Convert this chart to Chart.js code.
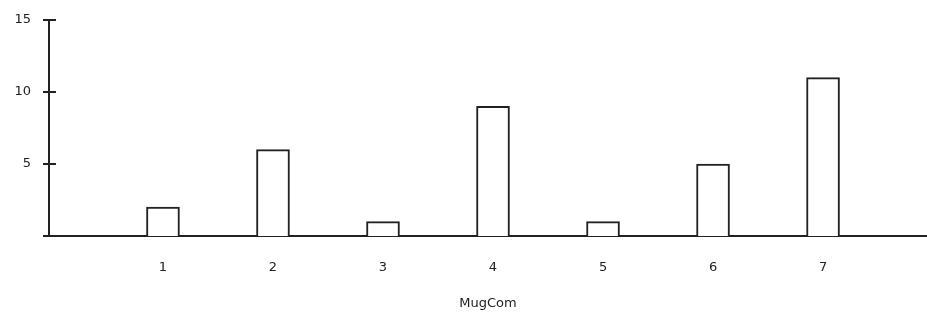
<!DOCTYPE html>
<html>
<head>
<meta charset="utf-8">
<title>MugCom</title>
<script src="https://cdn.jsdelivr.net/npm/chart.js@4/dist/chart.umd.min.js"></script>
<style>
    html, body { margin: 0; padding: 0; background: #fff; }
    #wrap { width: 927px; height: 315px; }
</style>
</head>
<body>
<div id="wrap"><canvas id="mugChart"></canvas></div>
<script>
// ============================================================================
// DATA
// ============================================================================

const categories = [1, 2, 3, 4, 5, 6, 7];
const counts = [2, 6, 1, 9, 1, 5, 11];
const yTicks = [0, 5, 10, 15];
const axisTitle = 'MugCom';

const ink = '#222';

// Small tick marks that cross the y axis on both sides
const crossTicks = {
    id: 'crossTicks',
    afterDraw(chart) {
        const ctx = chart.ctx;
        const y = chart.scales.y;
        const left = chart.chartArea.left;
        ctx.save();
        ctx.strokeStyle = ink;
        ctx.lineWidth = 2;
        yTicks.forEach(v => {
            const py = Math.round(y.getPixelForValue(v));
            ctx.beginPath();
            ctx.moveTo(left - 6, py);
            ctx.lineTo(left + 7, py);
            ctx.stroke();
        });
        ctx.restore();
    }
};

// ============================================================================
// CHART
// ============================================================================

const ctx = document.getElementById('mugChart');

new Chart(ctx, {
    type: 'bar',
    data: {
        datasets: [{
            data: categories.map((c, i) => ({ x: c, y: counts[i] })),
            backgroundColor: '#fff',
            borderColor: ink,
            borderWidth: 2,
            barThickness: 33
        }]
    },
    options: {
        responsive: true,
        maintainAspectRatio: false,
        animation: false,
        layout: { padding: { top: 20, right: 0, left: 0, bottom: 0 } },
        plugins: {
            legend: { display: false },
            tooltip: { enabled: false }
        },
        scales: {
            x: {
                type: 'linear',
                offset: false,
                min: -0.036,
                max: 7.945,
                afterFit: scale => {
                    scale.height = 79;
                    scale.paddingLeft = 0;
                    scale.paddingRight = 0;
                },
                afterBuildTicks: scale => {
                    scale.ticks = categories.map(c => ({ value: c }));
                },
                grid: { display: false, drawTicks: false, offset: false },
                border: { display: true, color: ink, width: 2 },
                ticks: {
                    padding: 24,
                    color: ink,
                    font: { family: 'DejaVu Sans', size: 13 }
                },
                title: {
                    display: true,
                    text: axisTitle,
                    color: ink,
                    padding: { top: 0, bottom: 4 },
                    font: { family: 'DejaVu Sans', size: 13 }
                }
            },
            y: {
                min: 0,
                max: 15,
                afterFit: scale => {
                    scale.width = 49;
                    // tick padding would otherwise push the plot top down
                    scale.paddingTop = 0;
                    scale.paddingBottom = 0;
                },
                afterBuildTicks: scale => {
                    scale.ticks = yTicks.map(v => ({ value: v }));
                },
                grid: { display: false, drawTicks: false },
                border: { display: true, color: ink, width: 2 },
                ticks: {
                    padding: 18,
                    color: ink,
                    font: { family: 'DejaVu Sans', size: 13 },
                    callback: v => (v === 0 ? '' : v)
                }
            }
        }
    },
    plugins: [crossTicks]
});
</script>
</body>
</html>
